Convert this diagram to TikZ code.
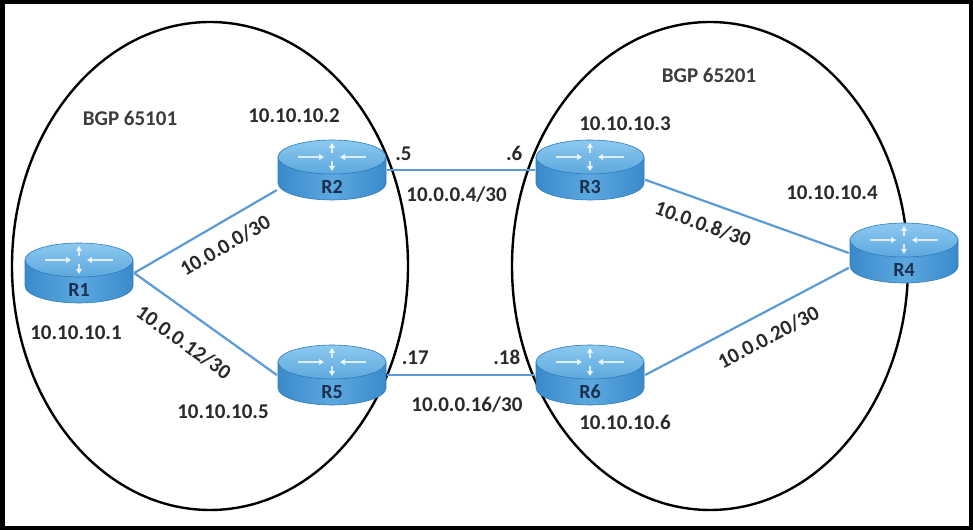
\documentclass[tikz,border=0pt]{standalone}
\usepackage{fontspec}
\setmainfont{Carlito}
\usetikzlibrary{positioning,shapes.geometric,backgrounds,arrows.meta}

\definecolor{linkblue}{HTML}{5B9BD5}
\definecolor{topblue}{HTML}{8CC9F0}
\definecolor{topblue2}{HTML}{5DA8DD}
\definecolor{sideblue}{HTML}{3A8ACB}
\definecolor{sideblue2}{HTML}{5CA8DF}
\definecolor{rimblue}{HTML}{2E7BBB}
\definecolor{rtext}{HTML}{1B2F4E}
\definecolor{iptext}{HTML}{2A2A2A}
\definecolor{bgptext}{HTML}{3C3C3C}

\tikzset{
  router/.style={minimum width=110pt, minimum height=62pt, inner sep=0pt},
  rside/.style={left color=sideblue, right color=sideblue, middle color=sideblue2,
    draw=rimblue, line width=0.6pt},
  rtop/.style={top color=topblue, bottom color=topblue2, draw=rimblue, line width=0.6pt},
  ricon/.style={white, opacity=.75, line width=1.8pt, -{Triangle[length=5pt,width=6pt]}},
  rlbl/.style={font=\bfseries\fontsize{20}{20}\selectfont, text=rtext, inner sep=0pt},
  link/.style={draw=linkblue, line width=2.2pt},
  netlbl/.style={font=\bfseries\fontsize{21}{21}\selectfont, text=iptext, sloped,
    text height=13pt, text depth=0pt, outer sep=0pt},
  ip/.style={font=\bfseries\fontsize{21}{21}\selectfont, text=iptext, inner sep=0pt},
  bgp/.style={font=\bfseries\fontsize{21}{21}\selectfont, text=bgptext, inner sep=0pt},
  area/.style={ellipse, draw, line width=2.4pt, minimum width=396pt,
    minimum height=488pt, inner sep=0pt},
}

\begin{document}
\begin{tikzpicture}[x=1pt, y=1pt, on grid]
  \useasboundingbox (0,0) rectangle (973,530);
  \draw[line width=4.5pt] (2.25,2.25) rectangle (970.75,527.75);

  % the two BGP areas
  \begin{scope}[on background layer]
    \node[area] (AS1) at (210,264) {};
    \node[area] (AS2) at (710,264) {};
  \end{scope}
  \node[bgp] (as1lbl) at (130,412) {BGP 65101};
  \node[bgp] (as2lbl) at (709,455) {BGP 65201};

  % routers
  \node[router] (R1) at (79,257) {};
  \node[router, above right=103pt and 253pt of R1] (R2) {};
  \node[router, below right=102pt and 253pt of R1] (R5) {};
  \node[router, right=258pt of R2] (R3) {};
  \node[router, right=258pt of R5] (R6) {};
  \node[router, below right=83pt and 314pt of R3] (R4) {};

  \foreach \r in {R1,R2,R3,R4,R5,R6} {
    \begin{scope}[shift={(\r.center)}]
      \shade[rside] (-54,13) -- (-54,-13)
        arc[start angle=180, end angle=360, x radius=54, y radius=17] -- (54,13) -- cycle;
      \shade[rtop] (0,13) ellipse[x radius=54, y radius=17];
      \draw[ricon] (-34,13) -- (-8,13);
      \draw[ricon] (34,13) -- (8,13);
      \draw[ricon] (0,17) -- (0,27);
      \draw[ricon] (0,9) -- (0,-1);
      \node[rlbl] (\r-lbl) at (0,-17) {\r};
    \end{scope}
  }

  % loopbacks
  \node[ip, below left=60pt and 3pt of R1] (ip1) {10.10.10.1};
  \node[ip, above left=54pt and 38pt of R2] (ip2) {10.10.10.2};
  \node[ip, above right=46pt and 35pt of R3] (ip3) {10.10.10.3};
  \node[ip, above left=60pt and 72pt of R4] (ip4) {10.10.10.4};
  \node[ip, below left=37pt and 109pt of R5] (ip5) {10.10.10.5};
  \node[ip, below right=47pt and 35pt of R6] (ip6) {10.10.10.6};

  % links
  \begin{scope}[on background layer]
    \draw[link] (R1.east) -- node[netlbl, below, inner sep=16pt, pos=.56] (n1) {10.0.0.0/30} (R2.200);
    \draw[link] (R1.east) -- node[netlbl, below, inner sep=21.5pt, pos=.46] (n2) {10.0.0.12/30} (R5.west);
    \draw[link] (R2.east) -- node[netlbl, below, inner sep=18.5pt, pos=.47] (n3) {10.0.0.4/30}
      node[netlbl, above, inner sep=9.5pt, pos=.11] (n3a) {.5}
      node[netlbl, above, inner sep=9.5pt, pos=.86] (n3b) {.6} (R3.west);
    \draw[link] (R5.east) -- node[netlbl, below, inner sep=23.5pt, pos=.54] (n4) {10.0.0.16/30}
      node[netlbl, above, inner sep=10pt, pos=.19] (n4a) {.17}
      node[netlbl, above, inner sep=10pt, pos=.81] (n4b) {.18} (R6.west);
    \draw[link] (R3.350) -- node[netlbl, below, inner sep=16pt, pos=.32] (n5) {10.0.0.8/30} (R4.west);
    \draw[link] (R6.east) -- node[netlbl, below, inner sep=18pt, pos=.55] (n6) {10.0.0.20/30} (R4.195);
  \end{scope}
\end{tikzpicture}
\end{document}
